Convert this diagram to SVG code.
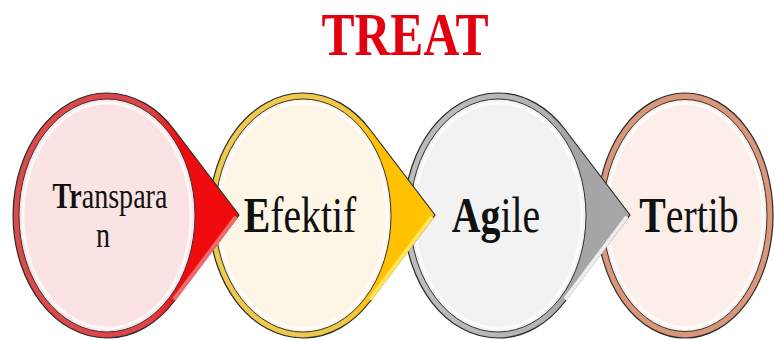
<svg xmlns="http://www.w3.org/2000/svg" xmlns:xlink="http://www.w3.org/1999/xlink" width="774" height="340" viewBox="0 0 774 340">
<style>
.lbl{font-family:"Liberation Serif","Times New Roman",serif;fill:#111;text-anchor:middle}
.b{font-weight:bold}
.out{stroke:#2a2a2a;stroke-width:1.2}
.inner{stroke:#333;stroke-width:1}
.gloss{fill:none;stroke:#fff;stroke-width:3;opacity:0.7}
.hl{fill:none;stroke-width:4;stroke-linecap:round}
</style>
<defs>
<path id="drop" d="M132,215 L67,129.5 A94,122.5 0 1 0 67,301.5 Z"/>
<linearGradient id="gRed" x1="0" y1="0" x2="1" y2="0">
<stop offset="0" stop-color="#dc4a4c"/><stop offset="0.6" stop-color="#e04448"/><stop offset="0.74" stop-color="#ee0c10"/><stop offset="1" stop-color="#f00a0a"/>
</linearGradient>
<linearGradient id="gYel" x1="0" y1="0" x2="1" y2="0">
<stop offset="0" stop-color="#eec94e"/><stop offset="0.6" stop-color="#f0c848"/><stop offset="0.74" stop-color="#ffbf00"/><stop offset="1" stop-color="#ffc400"/>
</linearGradient>
<linearGradient id="gGry" x1="0" y1="0" x2="1" y2="0">
<stop offset="0" stop-color="#bcbcbc"/><stop offset="0.6" stop-color="#b4b4b4"/><stop offset="0.74" stop-color="#a4a4a4"/><stop offset="1" stop-color="#a8a8a8"/>
</linearGradient>
</defs>
<rect width="774" height="340" fill="#fff"/>
<text class="lbl b" transform="translate(405,55) scale(0.8,1)" font-size="62" style="fill:#e3000f">TREAT</text>

<g id="node-tertib">
<ellipse cx="685" cy="215.5" rx="88" ry="122.5" fill="#d8967a" class="out"/>
<ellipse cx="685" cy="215.5" rx="82" ry="116" fill="#fcefe9" class="inner"/>
<ellipse cx="685" cy="215.5" rx="78" ry="112" class="gloss"/>
<text class="lbl" transform="translate(689,232) scale(0.78,1)" font-size="51"><tspan class="b">T</tspan>ertib</text>
</g>

<g id="node-agile">
<use xlink:href="#drop" href="#drop" x="498" fill="url(#gGry)" class="out"/>
<path d="M626,218 L566,298" class="hl" stroke="#ececec"/>
<ellipse cx="498" cy="215.5" rx="88" ry="116.5" fill="#f2f2f2" class="inner"/>
<ellipse cx="498" cy="215.5" rx="84" ry="112.5" class="gloss"/>
<text class="lbl" transform="translate(496,232) scale(0.78,1)" font-size="51"><tspan class="b">Ag</tspan>ile</text>
</g>

<g id="node-efektif">
<use xlink:href="#drop" href="#drop" x="303" fill="url(#gYel)" class="out"/>
<path d="M431,218 L371,298" class="hl" stroke="#ffe45a"/>
<ellipse cx="303" cy="215.5" rx="88" ry="116.5" fill="#fdf6e6" class="inner"/>
<ellipse cx="303" cy="215.5" rx="84" ry="112.5" class="gloss"/>
<text class="lbl" transform="translate(300,232) scale(0.78,1)" font-size="51"><tspan class="b">E</tspan>fektif</text>
</g>

<g id="node-transparan">
<use xlink:href="#drop" href="#drop" x="107" fill="url(#gRed)" class="out"/>
<path d="M235,218 L175,298" class="hl" stroke="#f26a6a"/>
<ellipse cx="107" cy="215.5" rx="88" ry="116.5" fill="#fbe3e4" class="inner"/>
<ellipse cx="107" cy="215.5" rx="84" ry="112.5" class="gloss"/>
<text class="lbl" transform="translate(110,208) scale(0.78,1)" font-size="36"><tspan class="b">Tr</tspan>anspara</text>
<text class="lbl" transform="translate(103,247) scale(0.78,1)" font-size="36">n</text>
</g>
</svg>
